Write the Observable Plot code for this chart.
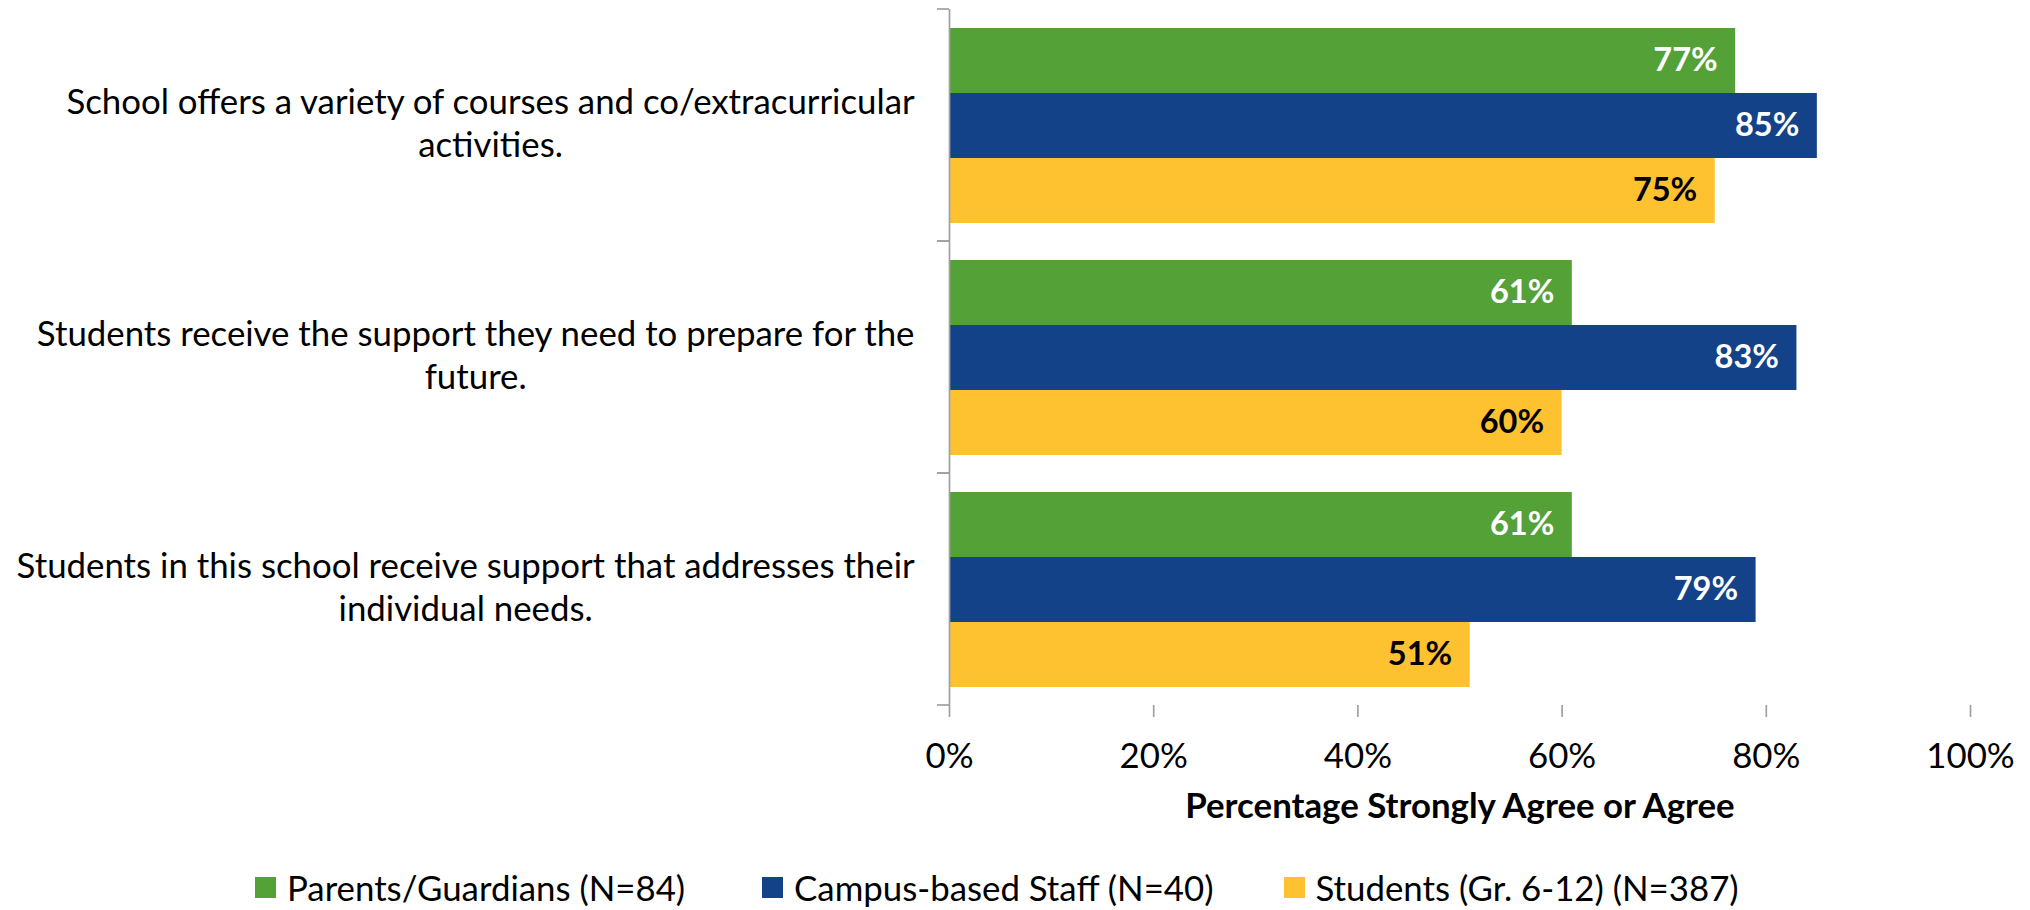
<!DOCTYPE html>
<html><head><meta charset="utf-8">
<script src="https://cdn.jsdelivr.net/npm/d3@7"></script>
<script src="https://cdn.jsdelivr.net/npm/@observablehq/plot@0.6"></script>
<style>
html,body{margin:0;padding:0;background:#fff;overflow:hidden}
#legend{height:27px;padding-top:13px;display:flex;align-items:center;padding-left:255px}
</style></head><body>
<div id="chart"></div><div id="legend"></div>
<script>
const questions = [
  "School offers a variety of courses and co/extracurricular activities.",
  "Students receive the support they need to prepare for the future.",
  "Students in this school receive support that addresses their individual needs."
];
const questionLines = [
  "School offers a variety of courses and co/extracurricular\nactivities.",
  "Students receive the support they need to prepare for the\nfuture.",
  "Students in this school receive support that addresses their\nindividual needs."
];
const series = ["Parents/Guardians (N=84)", "Campus-based Staff (N=40)", "Students (Gr. 6-12) (N=387)"];
const parents = [0.77, 0.61, 0.61];
const staff = [0.85, 0.83, 0.79];
const students = [0.75, 0.60, 0.51];
const colors = ["#54A138", "#134289", "#FEC231"];
const xTicks = [0, 0.2, 0.4, 0.6, 0.8, 1.0];
const xLabel = "Percentage Strongly Agree or Agree";

const values = [parents, staff, students];
const data = questions.flatMap((q, i) => series.map((s, j) => ({question: q, series: s, value: values[j][i]})));

const font = "Lato, 'Open Sans', sans-serif";
const fs = 34.8;
const barFs = 32.5;
const axisColor = "#a0a0a0";
const pct = d => Math.round(d.value * 100) + "%";

const chart = Plot.plot({
  width: 2030, height: 870,
  marginTop: 8, marginBottom: 165, marginLeft: 949, marginRight: 60,
  style: {fontFamily: font, fontSize: fs + "px", color: "black", background: "white"},
  x: {domain: [0, 1]},
  fy: {domain: questions, padding: 0, axis: null},
  y: {domain: series, paddingInner: 0, paddingOuter: 0.26, axis: null},
  color: {domain: series, range: colors},
  marks: [
    Plot.barX(data, {fy: "question", y: "series", x: "value", fill: "series"}),
    Plot.text(data.filter(d => d.series !== series[2]), {fy: "question", y: "series", x: "value", text: pct, textAnchor: "end", dx: -18, fill: "white", fontWeight: "bold", fontSize: barFs}),
    Plot.text(data.filter(d => d.series === series[2]), {fy: "question", y: "series", x: "value", text: pct, textAnchor: "end", dx: -18, fill: "black", fontWeight: "bold", fontSize: barFs}),
    Plot.ruleX([0], {stroke: axisColor, strokeWidth: 1.7}),
    Plot.axisX({ticks: xTicks, tickFormat: d3.format(".0%"), tickSize: 12, tickPadding: 26, stroke: axisColor, strokeWidth: 1.7, fill: "black", line: true, label: xLabel, labelArrow: "none", labelAnchor: "center", labelOffset: 112}),
    Plot.axisFy({anchor: "left", label: null, tickSize: 0, tickPadding: 35, dy: -4, tickFormat: q => questionLines[questions.indexOf(q)], lineHeight: 1.24, fill: "black"})
  ]
});
document.getElementById("chart").append(chart);
const svg = d3.select(chart);
svg.selectAll('g[aria-label="x-axis label"] text').attr("font-weight", "bold");
svg.selectAll('g[aria-label="fy-axis tick label"] text').each(function () {
  const b = this.getBBox();
  const cx = b.x + b.width / 2;
  d3.select(this).attr("text-anchor", "middle").selectAll("tspan").attr("x", cx);
});
const fyS = chart.scale("fy"), xS = chart.scale("x");
const x0 = xS.apply(0);
const bounds = fyS.domain.flatMap(d => [fyS.apply(d), fyS.apply(d) + fyS.bandwidth]);
svg.append("g").selectAll("line").data(bounds).join("line")
  .attr("x1", x0 - 12).attr("x2", x0).attr("y1", d => d).attr("y2", d => d)
  .attr("stroke", axisColor).attr("stroke-width", 1.7);

const legendGaps = ["77px", "70px", "0px"];
const legend = Plot.legend({color: {domain: series, range: colors}, swatchSize: 21, className: "lg"});
d3.select(legend).style("font-family", font).style("font-size", fs + "px").style("color", "black");
d3.select(legend).selectAll("span").style("margin-right", (d, i) => legendGaps[i]);
d3.select(legend).selectAll("svg").style("margin-right", "11px");
document.getElementById("legend").append(legend);
</script></body></html>
